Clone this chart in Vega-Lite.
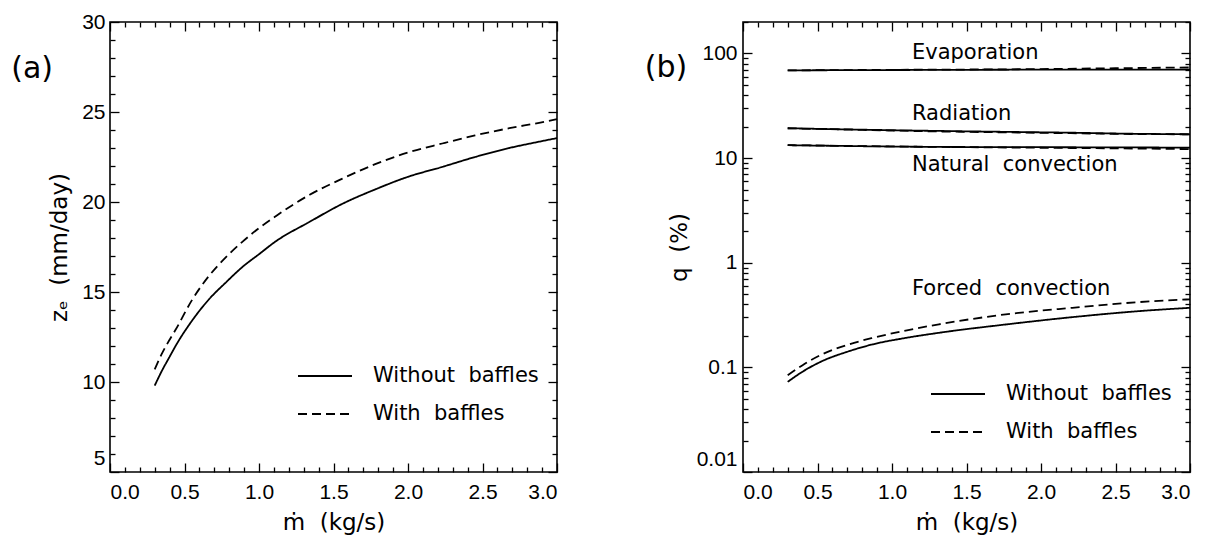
{
  "$schema": "https://vega.github.io/schema/vega-lite/v6.json",
  "padding": {"left": 10, "top": 10, "right": 5, "bottom": 0},
  "background": "white",
  "config": {
    "font": "DejaVu Sans",
    "view": {"stroke": "black", "strokeWidth": 1.6},
    "axis": {
      "domain": false, "grid": false, "tickColor": "black", "tickWidth": 1.3, "tickSize": -9,
      "labelColor": "black", "titleColor": "black", "labelFont": "Liberation Sans", "labelFontSize": 21,
      "titleFont": "DejaVu Sans", "titleFontSize": 23, "titleFontWeight": "normal", "labelOverlap": false
    },
    "legend": {
      "orient": "none", "legendX": 187, "title": null, "symbolType": "stroke", "symbolSize": 2916,
      "symbolStrokeWidth": 1.8, "symbolStrokeColor": "black", "labelFontSize": 21, "labelFont": "DejaVu Sans",
      "labelColor": "black", "labelOffset": 20, "padding": 0, "labelLimit": 400
    },
    "text": {"color": "black"}
  },
  "bounds": "flush",
  "spacing": 186,
  "resolve": {"scale": {"strokeDash": "independent"}, "legend": {"strokeDash": "independent"}},
  "hconcat": [
    {
      "width": 447, "height": 450,
      "resolve": {"axis": {"x": "independent", "y": "independent"}},
      "layer": [
        {
          "data": {"values": [
            {"m": 0.3, "ze": 9.8, "baffles": "Without baffles"},
            {"m": 0.35, "ze": 10.65, "baffles": "Without baffles"},
            {"m": 0.4, "ze": 11.4, "baffles": "Without baffles"},
            {"m": 0.44, "ze": 12.0, "baffles": "Without baffles"},
            {"m": 0.55, "ze": 13.4, "baffles": "Without baffles"},
            {"m": 0.665, "ze": 14.6, "baffles": "Without baffles"},
            {"m": 0.78, "ze": 15.55, "baffles": "Without baffles"},
            {"m": 0.89, "ze": 16.4, "baffles": "Without baffles"},
            {"m": 1.0, "ze": 17.1, "baffles": "Without baffles"},
            {"m": 1.11, "ze": 17.8, "baffles": "Without baffles"},
            {"m": 1.34, "ze": 18.9, "baffles": "Without baffles"},
            {"m": 1.56, "ze": 19.9, "baffles": "Without baffles"},
            {"m": 1.78, "ze": 20.7, "baffles": "Without baffles"},
            {"m": 2.0, "ze": 21.4, "baffles": "Without baffles"},
            {"m": 2.23, "ze": 21.95, "baffles": "Without baffles"},
            {"m": 2.45, "ze": 22.5, "baffles": "Without baffles"},
            {"m": 2.68, "ze": 23.0, "baffles": "Without baffles"},
            {"m": 2.88, "ze": 23.35, "baffles": "Without baffles"},
            {"m": 3.0, "ze": 23.55, "baffles": "Without baffles"},
            {"m": 0.3, "ze": 10.7, "baffles": "With baffles"},
            {"m": 0.35, "ze": 11.6, "baffles": "With baffles"},
            {"m": 0.4, "ze": 12.35, "baffles": "With baffles"},
            {"m": 0.44, "ze": 12.9, "baffles": "With baffles"},
            {"m": 0.55, "ze": 14.55, "baffles": "With baffles"},
            {"m": 0.665, "ze": 15.9, "baffles": "With baffles"},
            {"m": 0.78, "ze": 16.95, "baffles": "With baffles"},
            {"m": 0.89, "ze": 17.8, "baffles": "With baffles"},
            {"m": 1.0, "ze": 18.55, "baffles": "With baffles"},
            {"m": 1.11, "ze": 19.2, "baffles": "With baffles"},
            {"m": 1.34, "ze": 20.4, "baffles": "With baffles"},
            {"m": 1.56, "ze": 21.3, "baffles": "With baffles"},
            {"m": 1.78, "ze": 22.1, "baffles": "With baffles"},
            {"m": 2.0, "ze": 22.75, "baffles": "With baffles"},
            {"m": 2.23, "ze": 23.25, "baffles": "With baffles"},
            {"m": 2.45, "ze": 23.7, "baffles": "With baffles"},
            {"m": 2.68, "ze": 24.1, "baffles": "With baffles"},
            {"m": 2.88, "ze": 24.4, "baffles": "With baffles"},
            {"m": 3.0, "ze": 24.6, "baffles": "With baffles"}
          ]},
          "mark": {"type": "line", "color": "black", "strokeWidth": 1.8, "interpolate": "monotone"},
          "encoding": {
            "x": {"field": "m", "type": "quantitative",
              "scale": {"domain": [0, 3], "nice": false, "zero": false},
              "axis": {"orient": "bottom", "title": "ṁ\u00a0 (kg/s)",
                "values": [0,0.1,0.2,0.3,0.4,0.5,0.6,0.7,0.8,0.9,1,1.1,1.2,1.3,1.4,1.5,1.6,1.7,1.8,1.9,2,2.1,2.2,2.3,2.4,2.5,2.6,2.7,2.8,2.9,3],
                "labelExpr": "round(datum.value*10)%5==0 ? format(datum.value, '.1f') : ''",
                "tickDash": {"condition": {"test": "round(datum.value*10)%5==0", "value": [20, 0]}, "value": [5, 20]},
                "labelPadding": 18, "titlePadding": 9}},
            "y": {"field": "ze", "type": "quantitative",
              "scale": {"domain": [5, 30], "nice": false, "zero": false},
              "axis": {"orient": "left", "title": "zₑ\u00a0 (mm/day)",
                "values": [5,6,7,8,9,10,11,12,13,14,15,16,17,18,19,20,21,22,23,24,25,26,27,28,29,30],
                "labelExpr": "datum.value%5==0 ? datum.label : ''",
                "labelOffset": {"condition": {"test": "datum.value==5", "value": -14}, "value": 0},
                "tickDash": {"condition": {"test": "datum.value%5==0", "value": [20, 0]}, "value": [5, 20]},
                "labelPadding": 14, "titlePadding": 10}},
            "strokeDash": {"field": "baffles", "type": "nominal",
              "scale": {"domain": ["Without baffles", "With baffles"], "range": [[1, 0], [9, 5]]},
              "legend": {"legendY": 326, "rowPadding": -37, "labelExpr": "replace(datum.label, ' ', '\u00a0 ')"}}
          }
        },
        {
          "data": {"values": [{"m": -0.523, "ze": 27.4, "label": "(a)"}]},
          "mark": {"type": "text", "fontSize": 30, "font": "DejaVu Sans", "align": "center", "baseline": "middle"},
          "encoding": {
            "x": {"field": "m", "type": "quantitative",
              "scale": {"domain": [0, 3], "nice": false, "zero": false},
              "axis": {"orient": "top", "title": null, "labels": false,
                "values": [0,0.1,0.2,0.3,0.4,0.5,0.6,0.7,0.8,0.9,1,1.1,1.2,1.3,1.4,1.5,1.6,1.7,1.8,1.9,2,2.1,2.2,2.3,2.4,2.5,2.6,2.7,2.8,2.9,3],
                "tickDash": {"condition": {"test": "round(datum.value*10)%5==0", "value": [20, 0]}, "value": [5, 20]}}},
            "y": {"field": "ze", "type": "quantitative",
              "scale": {"domain": [5, 30], "nice": false, "zero": false},
              "axis": {"orient": "right", "title": null, "labels": false,
                "values": [5,6,7,8,9,10,11,12,13,14,15,16,17,18,19,20,21,22,23,24,25,26,27,28,29,30],
                "tickDash": {"condition": {"test": "datum.value%5==0", "value": [20, 0]}, "value": [5, 20]}}},
            "text": {"field": "label"}
          }
        }
      ]
    },
    {
      "width": 447, "height": 450,
      "resolve": {"axis": {"x": "independent", "y": "independent"}},
      "layer": [
        {
          "data": {"values": [
            {"m": 0.3, "q": 69, "series": "Evaporation", "baffles": "Without baffles"},
            {"m": 1.0, "q": 69.5, "series": "Evaporation", "baffles": "Without baffles"},
            {"m": 2.0, "q": 70, "series": "Evaporation", "baffles": "Without baffles"},
            {"m": 3.0, "q": 70, "series": "Evaporation", "baffles": "Without baffles"},
            {"m": 0.3, "q": 69, "series": "Evaporation", "baffles": "With baffles"},
            {"m": 1.0, "q": 69.8, "series": "Evaporation", "baffles": "With baffles"},
            {"m": 2.0, "q": 71, "series": "Evaporation", "baffles": "With baffles"},
            {"m": 2.5, "q": 72.3, "series": "Evaporation", "baffles": "With baffles"},
            {"m": 3.0, "q": 73.5, "series": "Evaporation", "baffles": "With baffles"},
            {"m": 0.3, "q": 19.3, "series": "Radiation", "baffles": "Without baffles"},
            {"m": 0.8, "q": 18.7, "series": "Radiation", "baffles": "Without baffles"},
            {"m": 1.3, "q": 18.2, "series": "Radiation", "baffles": "Without baffles"},
            {"m": 1.8, "q": 17.8, "series": "Radiation", "baffles": "Without baffles"},
            {"m": 2.2, "q": 17.5, "series": "Radiation", "baffles": "Without baffles"},
            {"m": 2.6, "q": 17.1, "series": "Radiation", "baffles": "Without baffles"},
            {"m": 3.0, "q": 16.9, "series": "Radiation", "baffles": "Without baffles"},
            {"m": 0.3, "q": 19.3, "series": "Radiation", "baffles": "With baffles"},
            {"m": 0.8, "q": 18.6, "series": "Radiation", "baffles": "With baffles"},
            {"m": 1.3, "q": 18.0, "series": "Radiation", "baffles": "With baffles"},
            {"m": 1.8, "q": 17.6, "series": "Radiation", "baffles": "With baffles"},
            {"m": 2.2, "q": 17.3, "series": "Radiation", "baffles": "With baffles"},
            {"m": 2.6, "q": 17.0, "series": "Radiation", "baffles": "With baffles"},
            {"m": 3.0, "q": 16.9, "series": "Radiation", "baffles": "With baffles"},
            {"m": 0.3, "q": 13.3, "series": "Natural convection", "baffles": "Without baffles"},
            {"m": 1.3, "q": 12.8, "series": "Natural convection", "baffles": "Without baffles"},
            {"m": 2.2, "q": 12.7, "series": "Natural convection", "baffles": "Without baffles"},
            {"m": 3.0, "q": 12.6, "series": "Natural convection", "baffles": "Without baffles"},
            {"m": 0.3, "q": 13.3, "series": "Natural convection", "baffles": "With baffles"},
            {"m": 1.3, "q": 12.8, "series": "Natural convection", "baffles": "With baffles"},
            {"m": 2.2, "q": 12.5, "series": "Natural convection", "baffles": "With baffles"},
            {"m": 3.0, "q": 12.2, "series": "Natural convection", "baffles": "With baffles"},
            {"m": 0.3, "q": 0.0727, "series": "Forced convection", "baffles": "Without baffles"},
            {"m": 0.4, "q": 0.091, "series": "Forced convection", "baffles": "Without baffles"},
            {"m": 0.53, "q": 0.1146, "series": "Forced convection", "baffles": "Without baffles"},
            {"m": 0.7, "q": 0.141, "series": "Forced convection", "baffles": "Without baffles"},
            {"m": 0.868, "q": 0.1656, "series": "Forced convection", "baffles": "Without baffles"},
            {"m": 1.1, "q": 0.192, "series": "Forced convection", "baffles": "Without baffles"},
            {"m": 1.315, "q": 0.214, "series": "Forced convection", "baffles": "Without baffles"},
            {"m": 1.763, "q": 0.257, "series": "Forced convection", "baffles": "Without baffles"},
            {"m": 2.21, "q": 0.302, "series": "Forced convection", "baffles": "Without baffles"},
            {"m": 2.66, "q": 0.345, "series": "Forced convection", "baffles": "Without baffles"},
            {"m": 3.0, "q": 0.371, "series": "Forced convection", "baffles": "Without baffles"},
            {"m": 0.3, "q": 0.084, "series": "Forced convection", "baffles": "With baffles"},
            {"m": 0.4, "q": 0.105, "series": "Forced convection", "baffles": "With baffles"},
            {"m": 0.53, "q": 0.133, "series": "Forced convection", "baffles": "With baffles"},
            {"m": 0.7, "q": 0.164, "series": "Forced convection", "baffles": "With baffles"},
            {"m": 0.868, "q": 0.191, "series": "Forced convection", "baffles": "With baffles"},
            {"m": 1.1, "q": 0.226, "series": "Forced convection", "baffles": "With baffles"},
            {"m": 1.315, "q": 0.258, "series": "Forced convection", "baffles": "With baffles"},
            {"m": 1.763, "q": 0.321, "series": "Forced convection", "baffles": "With baffles"},
            {"m": 2.21, "q": 0.371, "series": "Forced convection", "baffles": "With baffles"},
            {"m": 2.66, "q": 0.421, "series": "Forced convection", "baffles": "With baffles"},
            {"m": 3.0, "q": 0.447, "series": "Forced convection", "baffles": "With baffles"}
          ]},
          "mark": {"type": "line", "color": "black", "strokeWidth": 1.8, "interpolate": "monotone"},
          "encoding": {
            "x": {"field": "m", "type": "quantitative",
              "scale": {"domain": [0, 3], "nice": false, "zero": false},
              "axis": {"orient": "bottom", "title": "ṁ\u00a0 (kg/s)",
                "values": [0,0.1,0.2,0.3,0.4,0.5,0.6,0.7,0.8,0.9,1,1.1,1.2,1.3,1.4,1.5,1.6,1.7,1.8,1.9,2,2.1,2.2,2.3,2.4,2.5,2.6,2.7,2.8,2.9,3],
                "labelExpr": "round(datum.value*10)%5==0 ? format(datum.value, '.1f') : ''",
                "tickDash": {"condition": {"test": "round(datum.value*10)%5==0", "value": [20, 0]}, "value": [5, 20]},
                "labelPadding": 18, "titlePadding": 9}},
            "y": {"field": "q", "type": "quantitative",
              "scale": {"type": "log", "domain": [0.01, 200], "nice": false},
              "axis": {"orient": "left", "title": "q\u00a0 (%)",
                "values": [0.01,0.02,0.03,0.04,0.05,0.06,0.07,0.08,0.09,0.1,0.2,0.3,0.4,0.5,0.6,0.7,0.8,0.9,1,2,3,4,5,6,7,8,9,10,20,30,40,50,60,70,80,90,100,200],
                "labelExpr": "abs(log(datum.value)/LN10 - round(log(datum.value)/LN10)) < 0.001 ? format(datum.value, '.2~f') : ''",
                "labelOffset": {"condition": {"test": "datum.value==0.01", "value": -13}, "value": 0},
                "tickDash": {"condition": {"test": "abs(log(datum.value)/LN10 - round(log(datum.value)/LN10)) < 0.001", "value": [20, 0]}, "value": [5, 20]},
                "labelPadding": 15, "titlePadding": 5}},
            "detail": {"field": "series"},
            "strokeDash": {"field": "baffles", "type": "nominal",
              "scale": {"domain": ["Without baffles", "With baffles"], "range": [[1, 0], [9, 5]]},
              "legend": {"legendY": 344, "rowPadding": -45, "labelExpr": "replace(datum.label, ' ', '\u00a0 ')"}}
          }
        },
        {
          "data": {"values": [
            {"m": 1.134, "q": 102, "label": "Evaporation"},
            {"m": 1.134, "q": 26.3, "label": "Radiation"},
            {"m": 1.134, "q": 8.6, "label": "Natural\u00a0 convection"},
            {"m": 1.134, "q": 0.556, "label": "Forced\u00a0 convection"}
          ]},
          "mark": {"type": "text", "fontSize": 21, "font": "DejaVu Sans", "align": "left", "baseline": "middle"},
          "encoding": {
            "x": {"field": "m", "type": "quantitative",
              "scale": {"domain": [0, 3], "nice": false, "zero": false},
              "axis": {"orient": "top", "title": null, "labels": false,
                "values": [0,0.1,0.2,0.3,0.4,0.5,0.6,0.7,0.8,0.9,1,1.1,1.2,1.3,1.4,1.5,1.6,1.7,1.8,1.9,2,2.1,2.2,2.3,2.4,2.5,2.6,2.7,2.8,2.9,3],
                "tickDash": {"condition": {"test": "round(datum.value*10)%5==0", "value": [20, 0]}, "value": [5, 20]}}},
            "y": {"field": "q", "type": "quantitative",
              "scale": {"type": "log", "domain": [0.01, 200], "nice": false},
              "axis": {"orient": "right", "title": null, "labels": false,
                "values": [0.01,0.02,0.03,0.04,0.05,0.06,0.07,0.08,0.09,0.1,0.2,0.3,0.4,0.5,0.6,0.7,0.8,0.9,1,2,3,4,5,6,7,8,9,10,20,30,40,50,60,70,80,90,100,200],
                "tickDash": {"condition": {"test": "abs(log(datum.value)/LN10 - round(log(datum.value)/LN10)) < 0.001", "value": [20, 0]}, "value": [5, 20]}}},
            "text": {"field": "label"}
          }
        },
        {
          "data": {"values": [{"m": -0.517, "q": 73, "label": "(b)"}]},
          "mark": {"type": "text", "fontSize": 30, "font": "DejaVu Sans", "align": "center", "baseline": "middle"},
          "encoding": {
            "x": {"field": "m", "type": "quantitative", "axis": null},
            "y": {"field": "q", "type": "quantitative", "axis": null},
            "text": {"field": "label"}
          }
        }
      ]
    }
  ]
}
